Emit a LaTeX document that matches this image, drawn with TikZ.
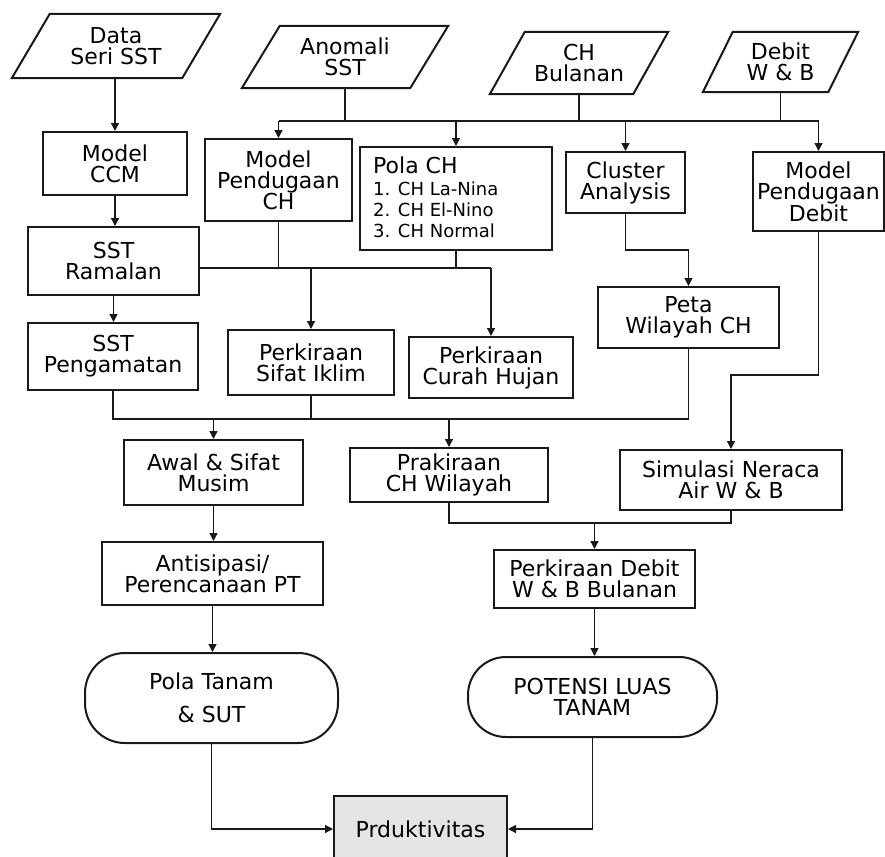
\documentclass[tikz,border=0pt]{standalone}
\usepackage{fontspec}
\setmainfont{DejaVu Sans}
\usetikzlibrary{arrows.meta,calc}
\newcommand{\fsz}[2]{\fontsize{#1}{#2}\selectfont}
\begin{document}
\begin{tikzpicture}[x=1pt,y=-1pt,
  ink/.style={draw=black!90},
  box/.style={ink, line width=2pt, fill=white, align=center, inner sep=1pt, font=\fsz{22}{21}},
  stadium/.style={box, rounded corners=40pt},
  ptext/.style={align=center, inner sep=0pt, font=\fsz{22}{21}},
  pline/.style={ink, line width=2pt, line join=miter},
  conn/.style={draw=black!90, line width=1.3pt},
  arr/.style={conn, -{Triangle[width=8pt,length=8pt]}},
  item/.style={anchor=base west, inner sep=0pt, font=\fsz{18}{18}}
]
\useasboundingbox[fill=white] (0,0) rectangle (885,856);

% ---------- input parallelograms ----------
\node[ptext, minimum width=208, minimum height=64] (data) at (116,46) {Data\\Seri SST};
\draw[pline] (data.south west) -- ($(data.south east)+(-38,0)$) -- (data.north east) -- ($(data.north west)+(38,0)$) -- cycle;
\node[ptext, minimum width=206, minimum height=62] (anom) at (345,57) {Anomali\\SST};
\draw[pline] (anom.south west) -- ($(anom.south east)+(-38,0)$) -- (anom.north east) -- ($(anom.north west)+(38,0)$) -- cycle;
\node[ptext, minimum width=178, minimum height=62] (chb) at (579,63) {CH\\Bulanan};
\draw[pline] (chb.south west) -- ($(chb.south east)+(-35,0)$) -- (chb.north east) -- ($(chb.north west)+(35,0)$) -- cycle;
\node[ptext, minimum width=155, minimum height=60] (debit) at (780.5,62) {Debit\\W \& B};
\draw[pline] (debit.south west) -- ($(debit.south east)+(-30,0)$) -- (debit.north east) -- ($(debit.north west)+(30,0)$) -- cycle;

% ---------- boxes ----------
\node[box, minimum width=144, minimum height=63] (ccm) at (115,163.5) {Model\\CCM};
\node[box, minimum width=147, minimum height=82] (mpch) at (278.5,180) {Model\\Pendugaan\\CH};
\node[box, minimum width=192, minimum height=103] (polach) at (456,198.5) {};
\node[item, font=\fsz{22}{22}] (polat) at (373,173) {Pola CH};
\node[item] (pol1) at (373,195) {1. CH La-Nina};
\node[item] (pol2) at (373,216) {2. CH El-Nino};
\node[item] (pol3) at (373,237) {3. CH Normal};
\node[box, minimum width=119, minimum height=61] (cluster) at (625.5,182.5) {Cluster\\Analysis};
\node[box, minimum width=131, minimum height=79] (mpdebit) at (818.5,191.5) {Model\\Pendugaan\\Debit};

\node[box, minimum width=171, minimum height=68] (ssr) at (113.5,261) {SST\\Ramalan};
\node[box, minimum width=181, minimum height=61] (peta) at (688.5,317.5) {Peta\\Wilayah CH};

\node[box, minimum width=170, minimum height=67] (ssp) at (113,356.5) {SST\\Pengamatan};
\node[box, minimum width=166, minimum height=65] (psi) at (311,362.5) {Perkiraan\\Sifat Iklim};
\node[box, minimum width=164, minimum height=61] (pch) at (491,367.5) {Perkiraan\\Curah Hujan};

\node[box, minimum width=179, minimum height=65] (awal) at (213.5,472.5) {Awal \& Sifat\\Musim};
\node[box, minimum width=198, minimum height=54] (pcw) at (449,475) {Prakiraan\\CH Wilayah};
\node[box, minimum width=222, minimum height=60] (sim) at (731,480) {Simulasi Neraca\\Air W \& B};

\node[box, minimum width=221, minimum height=63] (anti) at (212.5,573.5) {Antisipasi/\\Perencanaan PT};
\node[box, minimum width=201, minimum height=58] (debitb) at (594.5,579) {Perkiraan Debit\\W \& B Bulanan};

\node[stadium, minimum width=253, minimum height=90, font=\fsz{22}{33}] (polatanam) at (211.5,698) {Pola Tanam\\\& SUT};
\node[stadium, rounded corners=38pt, minimum width=249, minimum height=80, font=\fsz{22}{21}] (potensi) at (592.5,697) {POTENSI LUAS\\TANAM};

\node[box, fill=black!10, minimum width=173, minimum height=66] (prod) at (420.5,829) {Prduktivitas};

% ---------- connectors ----------
\coordinate (bus1) at (0,121);
\coordinate (bus2) at (0,268);
\coordinate (bus3) at (0,419);
\coordinate (dk) at (0,375);
\coordinate (bus4) at (0,523);

\draw[arr] (ccm.north |- data.south) -- (ccm.north);
\draw[conn] (anom.south) -- (anom.south |- bus1);
\draw[conn] (chb.south) -- (chb.south |- bus1);
\draw[conn] (debit.south) -- (debit.south |- bus1);
\draw[conn] (mpch.north |- bus1) -- (mpdebit.north |- bus1);
\draw[arr] (mpch.north |- bus1) -- (mpch.north);
\draw[arr] (polach.north |- bus1) -- (polach.north);
\draw[arr] (cluster.north |- bus1) -- (cluster.north);
\draw[arr] (mpdebit.north |- bus1) -- (mpdebit.north);

\draw[arr] (ccm.south) -- (ccm.south |- ssr.north);
\draw[conn] (ssr.east |- bus2) -- (pch.north |- bus2);
\draw[conn] (mpch.south) -- (mpch.south |- bus2);
\draw[conn] (polach.south) -- (polach.south |- bus2);
\draw[arr] (psi.north |- bus2) -- (psi.north);
\draw[arr] (pch.north |- bus2) -- (pch.north);

\draw[arr] (cluster.south) |- ($(cluster.south)!0.5!(peta.north)$) -| (peta.north);
\draw[arr] (ssr.south) -- (ssr.south |- ssp.north);

\draw[conn] (ssp.south) -- (ssp.south |- bus3) -- (peta.south |- bus3) -- (peta.south);
\draw[conn] (psi.south) -- (psi.south |- bus3);
\draw[arr] (awal.north |- bus3) -- (awal.north);
\draw[arr] (pcw.north |- bus3) -- (pcw.north);

\draw[arr] (mpdebit.south) -- (mpdebit.south |- dk) -- (sim.north |- dk) -- (sim.north);

\draw[arr] (awal.south) -- (awal.south |- anti.north);
\draw[conn] (pcw.south) -- (pcw.south |- bus4) -- (sim.south |- bus4) -- (sim.south);
\draw[arr] (debitb.north |- bus4) -- (debitb.north);

\draw[arr] (anti.south) -- (anti.south |- polatanam.north);
\draw[arr] (debitb.south) -- (debitb.south |- potensi.north);

\draw[arr] (polatanam.south) |- (prod.west);
\draw[arr] (potensi.south) |- (prod.east);
\end{tikzpicture}
\end{document}
